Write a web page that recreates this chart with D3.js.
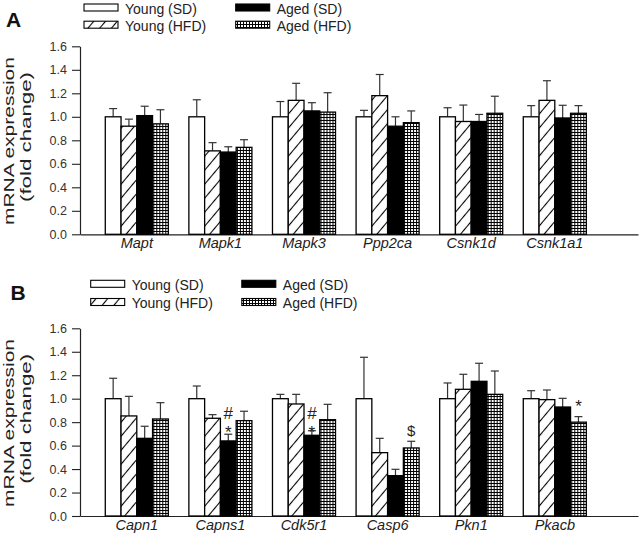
<!DOCTYPE html>
<html>
<head>
<meta charset="utf-8">
<script src="https://cdn.jsdelivr.net/npm/d3@7"></script>
<style>
  html, body { margin: 0; padding: 0; background: #fff; }
  svg { display: block; font-family: "Liberation Sans", Arial, sans-serif; }
</style>
</head>
<body>
<svg id="chart" width="640" height="535"></svg>
<script>
// ---------- DATA ----------
const seriesNames = ["Young (SD)", "Young (HFD)", "Aged (SD)", "Aged (HFD)"];
const yTicks = [0.0, 0.2, 0.4, 0.6, 0.8, 1.0, 1.2, 1.4, 1.6];

// Panel A
const genesA = ["Mapt", "Mapk1", "Mapk3", "Ppp2ca", "Csnk1d", "Csnk1a1"];
const youngSD_A  = [1.00, 1.00, 1.00, 1.00, 1.00, 1.00];
const youngHFD_A = [0.92, 0.71, 1.14, 1.18, 0.96, 1.14];
const agedSD_A   = [1.01, 0.70, 1.05, 0.92, 0.96, 0.99];
const agedHFD_A  = [0.94, 0.74, 1.04, 0.95, 1.03, 1.03];
const youngSD_A_err  = [0.07, 0.145, 0.13, 0.055, 0.077, 0.095];
const youngHFD_A_err = [0.06, 0.07, 0.145, 0.18, 0.14, 0.167];
const agedSD_A_err   = [0.08, 0.045, 0.07, 0.08, 0.06, 0.108];
const agedHFD_A_err  = [0.12, 0.065, 0.165, 0.10, 0.145, 0.065];

// Panel B
const genesB = ["Capn1", "Capns1", "Cdk5r1", "Casp6", "Pkn1", "Pkacb"];
const youngSD_B  = [1.00, 1.00, 1.00, 1.00, 1.00, 1.00];
const youngHFD_B = [0.853, 0.833, 0.955, 0.54, 1.08, 0.992];
const agedSD_B   = [0.662, 0.64, 0.688, 0.344, 1.148, 0.929];
const agedHFD_B  = [0.827, 0.813, 0.821, 0.58, 1.037, 0.80];
const youngSD_B_err  = [0.174, 0.108, 0.037, 0.353, 0.134, 0.068];
const youngHFD_B_err = [0.167, 0.031, 0.082, 0.122, 0.128, 0.082];
const agedSD_B_err   = [0.103, 0.057, 0.039, 0.054, 0.154, 0.074];
const agedHFD_B_err  = [0.139, 0.08, 0.131, 0.057, 0.199, 0.047];

// significance marks (gene, series index, symbol, value level)
const marksB_gene   = ["Capns1", "Capns1", "Cdk5r1", "Cdk5r1", "Casp6", "Pkacb"];
const marksB_series = [2, 2, 2, 2, 3, 3];
const marksB_symbol = ["*", "#", "*", "#", "$", "*"];
const marksB_level  = [0.75, 0.88, 0.75, 0.88, 0.726, 0.969];

// ---------- DRAW ----------
const svg = d3.select("#chart");
const defs = svg.append("defs");

const hatch = defs.append("pattern")
  .attr("id", "hatch").attr("patternUnits", "userSpaceOnUse")
  .attr("width", 9).attr("height", 9)
  .attr("patternTransform", "rotate(40)");
hatch.append("rect").attr("width", 9).attr("height", 9).attr("fill", "#fff");
hatch.append("line").attr("x1", 4.5).attr("y1", 0).attr("x2", 4.5).attr("y2", 9)
  .attr("stroke", "#000").attr("stroke-width", 1.1);

const grid = defs.append("pattern")
  .attr("id", "grid").attr("patternUnits", "userSpaceOnUse")
  .attr("width", 3).attr("height", 3);
grid.append("rect").attr("width", 3).attr("height", 3).attr("fill", "#fff");
grid.append("path").attr("d", "M0.5,0 V3 M0,0.5 H3")
  .attr("stroke", "#000").attr("stroke-width", 1).attr("fill", "none");

const fills = ["#fff", "url(#hatch)", "#000", "url(#grid)"];

function buildRows(genes, means, errs) {
  return genes.map((g, i) => ({
    gene: g,
    bars: seriesNames.map((s, k) => ({ gene: g, k: k, v: means[k][i], e: errs[k][i] }))
  }));
}

function drawPanel(cfg) {
  const g = svg.append("g");
  const y = d3.scaleLinear().domain([0, 1.6]).range([cfg.y0, cfg.y1]);
  const x = d3.scaleBand().domain(cfg.genes).range([95, 596.6])
    .paddingInner(0.246).paddingOuter(0.123);
  const xs = d3.scaleBand().domain(d3.range(seriesNames.length)).range([0, x.bandwidth()]);

  // y axis
  const yAxis = d3.axisLeft(y).tickValues(yTicks).tickFormat(d3.format(".1f"))
    .tickSize(8).tickPadding(5).tickSizeOuter(0);
  const ya = g.append("g").attr("transform", "translate(80,0)").call(yAxis);
  ya.select(".domain").attr("stroke", "#222").attr("stroke-width", 1.2);
  ya.selectAll(".tick line").attr("stroke", "#222").attr("stroke-width", 1.1);
  ya.selectAll(".tick text").attr("fill", "#333").attr("font-size", 12.5)
    .attr("font-family", "Liberation Sans, Arial, sans-serif");

  // x axis
  const xAxis = d3.axisBottom(d3.scaleLinear().domain([0, 1]).range([80, 638]))
    .tickValues([]).tickSizeOuter(0);
  const xa = g.append("g").attr("transform", `translate(0,${cfg.y0})`).call(xAxis);
  xa.select(".domain").attr("stroke", "#222").attr("stroke-width", 1.2);

  // category labels
  g.selectAll("text.cat").data(cfg.genes).join("text")
    .attr("class", "cat")
    .attr("x", d => x(d) + x.bandwidth() / 2)
    .attr("y", cfg.y0 + 13.5)
    .attr("text-anchor", "middle")
    .attr("font-size", 14.5).attr("font-style", "italic").attr("fill", "#222")
    .text(d => d);

  // bars
  const groups = g.selectAll("g.grp").data(cfg.rows).join("g")
    .attr("class", "grp")
    .attr("transform", d => `translate(${x(d.gene)},0)`);

  groups.selectAll("line.err").data(d => d.bars).join("line")
    .attr("class", "err")
    .attr("x1", d => xs(d.k) + xs.bandwidth() / 2)
    .attr("x2", d => xs(d.k) + xs.bandwidth() / 2)
    .attr("y1", d => y(d.v)).attr("y2", d => y(d.v + d.e))
    .attr("stroke", "#333").attr("stroke-width", 1.2);
  groups.selectAll("line.cap").data(d => d.bars).join("line")
    .attr("class", "cap")
    .attr("x1", d => xs(d.k) + xs.bandwidth() / 2 - 4)
    .attr("x2", d => xs(d.k) + xs.bandwidth() / 2 + 4)
    .attr("y1", d => y(d.v + d.e)).attr("y2", d => y(d.v + d.e))
    .attr("stroke", "#333").attr("stroke-width", 1.2);

  groups.selectAll("rect.bar").data(d => d.bars).join("rect")
    .attr("class", "bar")
    .attr("x", d => xs(d.k)).attr("width", xs.bandwidth())
    .attr("y", d => y(d.v)).attr("height", d => y(0) - y(d.v))
    .attr("fill", d => fills[d.k])
    .attr("stroke", "#000").attr("stroke-width", 1.3);

  // significance marks
  if (cfg.marks) {
    const fs = { "*": 17, "#": 17, "$": 15 };
    const off = { "*": 0.58, "#": 0.36, "$": 0.36 };
    g.selectAll("text.mark").data(cfg.marks).join("text")
      .attr("class", "mark")
      .attr("x", d => x(d.gene) + xs(d.k) + xs.bandwidth() / 2)
      .attr("y", d => y(d.level) + off[d.sym] * fs[d.sym])
      .attr("text-anchor", "middle")
      .attr("font-size", d => fs[d.sym]).attr("fill", "#222")
      .text(d => d.sym);
  }

  // y label
  const cy = (cfg.y0 + cfg.y1) / 2;
  g.append("text")
    .attr("transform", `translate(14,${cy + 0.8}) rotate(-90)`)
    .attr("text-anchor", "middle").attr("font-size", 15.5).attr("fill", "#222")
    .attr("textLength", 168).attr("lengthAdjust", "spacingAndGlyphs")
    .text("mRNA expression");
  g.append("text")
    .attr("transform", `translate(31,${cy - 3.3}) rotate(-90)`)
    .attr("text-anchor", "middle").attr("font-size", 15.5).attr("fill", "#222")
    .attr("textLength", 130).attr("lengthAdjust", "spacingAndGlyphs")
    .text("(fold change)");

  // panel letter
  g.append("text").attr("x", cfg.letterX).attr("y", cfg.letterY)
    .attr("font-size", 21).attr("font-weight", "bold").attr("fill", "#111")
    .text(cfg.letter);

  // legend
  const L = cfg.legend;
  const pos = [
    { sx: L.x1, tx: L.x1 + 41, r: 0 },
    { sx: L.x1, tx: L.x1 + 41, r: 1 },
    { sx: L.x2, tx: L.x2 + 41, r: 0 },
    { sx: L.x2, tx: L.x2 + 41, r: 1 }
  ];
  const lg = g.append("g");
  seriesNames.forEach((s, k) => {
    const p = pos[k];
    const top = L.rows[p.r];
    lg.append("rect").attr("x", p.sx).attr("y", top).attr("width", 34).attr("height", 7)
      .attr("fill", fills[k]).attr("stroke", "#000").attr("stroke-width", 1.1);
    lg.append("text").attr("x", p.tx).attr("y", top + 9.5)
      .attr("font-size", 14).attr("fill", "#222").text(s);
  });
}

drawPanel({
  letter: "A", letterX: 6, letterY: 26.5,
  genes: genesA, y0: 234.3, y1: 46.3,
  rows: buildRows(genesA, [youngSD_A, youngHFD_A, agedSD_A, agedHFD_A],
                  [youngSD_A_err, youngHFD_A_err, agedSD_A_err, agedHFD_A_err]),
  legend: { x1: 84, x2: 235.7, rows: [4, 21.2] }
});

drawPanel({
  letter: "B", letterX: 10.5, letterY: 300.3,
  genes: genesB, y0: 516, y1: 328.3,
  rows: buildRows(genesB, [youngSD_B, youngHFD_B, agedSD_B, agedHFD_B],
                  [youngSD_B_err, youngHFD_B_err, agedSD_B_err, agedHFD_B_err]),
  marks: marksB_gene.map((gname, i) => ({ gene: gname, k: marksB_series[i], sym: marksB_symbol[i], level: marksB_level[i] })),
  legend: { x1: 90.7, x2: 241.8, rows: [280.3, 298.5] }
});
</script>
</body>
</html>
